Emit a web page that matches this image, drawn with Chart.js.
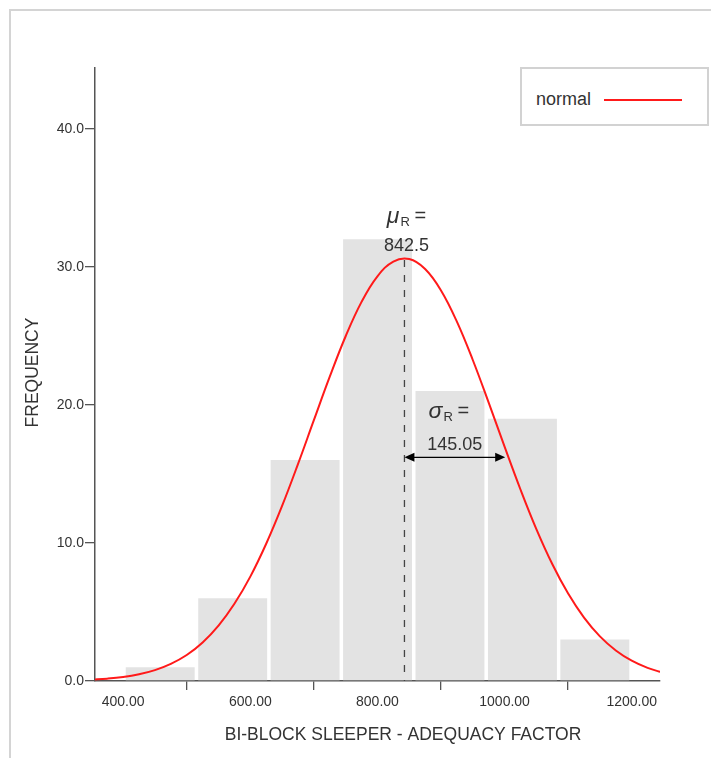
<!DOCTYPE html>
<html>
<head>
<meta charset="utf-8">
<script src="https://cdn.jsdelivr.net/npm/chart.js@4.4.0/dist/chart.umd.min.js"></script>
<style>
  html, body { margin: 0; padding: 0; background: #fff; overflow: hidden; }
  #wrap { position: relative; width: 711px; height: 758px; }
  #frame { position: absolute; left: 9px; top: 9px; width: 780px; height: 820px; border: 2px solid #d4d4d4; }
  #myChart { position: absolute; left: 0; top: 0; }
  #legend { position: absolute; left: 520px; top: 67px; width: 189px; height: 59px; box-sizing: border-box;
            border: 2px solid #d2d2d2; background: #fff; font: 18px "Liberation Sans", Arial, sans-serif; color: #333; }
  #legend span { position: absolute; left: 14px; top: 20px; }
  #legend i { position: absolute; left: 82px; top: 30px; width: 78px; height: 2px; background: #ff1a1a; }
</style>
</head>
<body>
<div id="wrap">
  <div id="frame"></div>
  <canvas id="myChart" width="711" height="758"></canvas>
  <div id="legend"><span>normal</span><i></i></div>
</div>
<script>
//Data
const binCenters = [458.3, 572.3, 686.2, 800.2, 914.1, 1028.1, 1142.0];
const frequencies = [1, 6, 16, 32, 21, 19, 3];
const curveX = [350, 375, 400, 425, 450, 475, 500, 525, 550, 575, 600, 625, 650, 675, 700, 725, 750, 775, 800, 825,
  850, 875, 900, 925, 950, 975, 1000, 1025, 1050, 1075, 1100, 1125, 1150, 1175, 1200, 1225, 1250];
const curveY = [0.1, 0.17, 0.29, 0.49, 0.79, 1.24, 1.88, 2.79, 4.01, 5.59, 7.56, 9.94, 12.68, 15.71, 18.89, 22.04, 24.97, 27.46, 29.31, 30.38,
  30.56, 29.84, 28.29, 26.03, 23.25, 20.16, 16.97, 13.87, 11.0, 8.47, 6.33, 4.59, 3.23, 2.21, 1.47, 0.95, 0.59];
const xTicks = [400, 600, 800, 1000, 1200];
const yTicks = [0, 10, 20, 30, 40];
const mean = 842.5;
const sigma = 145.05;
const sigmaArrowEnd = 1001;
const sigmaArrowLevel = 16.2;

const fontFamily = '"Liberation Sans", Arial, sans-serif';
var ctx = document.querySelector("#myChart").getContext("2d");

// draw the mean line, the labels and axis titles
const annotations = {
  id: "annotations",
  afterDatasetsDraw(chart) {
    const { ctx, chartArea, scales: { x, y } } = chart;
    const meanX = x.getPixelForValue(mean);
    ctx.save();

    //dashed mean line
    ctx.strokeStyle = "#444";
    ctx.lineWidth = 1.3;
    ctx.setLineDash([7, 8]);
    ctx.beginPath();
    ctx.moveTo(meanX, y.getPixelForValue(30.5));
    ctx.lineTo(meanX, chartArea.bottom);
    ctx.stroke();
    ctx.setLineDash([]);

    //sigma arrow
    const ay = y.getPixelForValue(sigmaArrowLevel);
    const ax2 = x.getPixelForValue(sigmaArrowEnd);
    ctx.strokeStyle = "#000";
    ctx.fillStyle = "#000";
    ctx.lineWidth = 1.4;
    ctx.beginPath();
    ctx.moveTo(meanX + 6, ay);
    ctx.lineTo(ax2 - 6, ay);
    ctx.stroke();
    ctx.beginPath();
    ctx.moveTo(meanX, ay);
    ctx.lineTo(meanX + 10, ay - 4.5);
    ctx.lineTo(meanX + 10, ay + 4.5);
    ctx.closePath();
    ctx.fill();
    ctx.beginPath();
    ctx.moveTo(ax2, ay);
    ctx.lineTo(ax2 - 10, ay - 4.5);
    ctx.lineTo(ax2 - 10, ay + 4.5);
    ctx.closePath();
    ctx.fill();

    //symbol labels
    ctx.fillStyle = "#333";
    ctx.textBaseline = "alphabetic";
    function symbolLabel(sym, cx, baseY) {
      const f1 = "italic 23px " + fontFamily;
      const f2 = "13px " + fontFamily;
      const f3 = "20px " + fontFamily;
      ctx.font = f1; const w1 = ctx.measureText(sym).width;
      ctx.font = f2; const w2 = ctx.measureText("R").width;
      ctx.font = f3; const w3 = ctx.measureText(" =").width;
      let left = cx - (w1 + w2 + w3) / 2;
      ctx.textAlign = "left";
      ctx.font = f1; ctx.fillText(sym, left, baseY);
      ctx.font = f2; ctx.fillText("R", left + w1 + 1, baseY + 3);
      ctx.font = f3; ctx.fillText(" =", left + w1 + w2, baseY - 1);
    }
    symbolLabel("\u03BC", meanX + 2, y.getPixelForValue(33.2));
    symbolLabel("\u03C3", (meanX + ax2) / 2 - 6, y.getPixelForValue(19.06));
    ctx.textAlign = "center";
    ctx.font = "18px " + fontFamily;
    ctx.fillText(String(mean), meanX + 2, y.getPixelForValue(31.16));
    ctx.fillText(sigma.toFixed(2), (meanX + ax2) / 2, y.getPixelForValue(16.74));

    //axis titles
    ctx.font = "17.5px " + fontFamily;
    ctx.fillStyle = "#333";
    ctx.textBaseline = "middle";
    ctx.fillText("BI-BLOCK SLEEPER - ADEQUACY FACTOR", (chartArea.left + chart.width) / 2, 735);
    ctx.translate(33, (chartArea.top + chartArea.bottom) / 2 - 2);
    ctx.rotate(-Math.PI / 2);
    ctx.fillText("FREQUENCY", 0, 0);
    ctx.restore();
  },
};

const histogram = new Chart(ctx, {
  type: "bar",
  data: {
    datasets: [
      {
        type: "line",
        label: "normal",
        data: curveX.map((v, i) => ({ x: v, y: curveY[i] })),
        borderColor: "#ff1a1a",
        borderWidth: 2,
        pointRadius: 0,
        tension: 0.4,
        fill: false,
      },
      {
        label: "frequency",
        data: binCenters.map((v, i) => ({ x: v, y: frequencies[i] })),
        backgroundColor: "#e3e3e3",
        barPercentage: 0.952,
        categoryPercentage: 1,
      },
    ],
  },
  options: {
    responsive: false,
    animation: false,
    devicePixelRatio: 1,
    layout: { padding: { top: 68, right: 51, bottom: 0, left: 0 } },
    plugins: { legend: { display: false }, tooltip: { enabled: false } },
    scales: {
      x: {
        type: "linear",
        min: 355.7,
        max: 1244.5,
        offset: false,
        afterFit: (s) => { s.height = 77; },
        afterBuildTicks: (s) => { s.ticks = xTicks.map((v) => ({ value: v })); },
        grid: { drawOnChartArea: false, drawTicks: true, tickLength: 9, color: "#555", lineWidth: 1.3 },
        border: { color: "#555", width: 1.5 },
        ticks: { color: "#333", padding: 4, font: { size: 14, family: fontFamily }, callback: (v) => Number(v).toFixed(2) },
      },
      y: {
        min: 0,
        max: 44.4,
        afterFit: (s) => { s.width = 95; },
        afterBuildTicks: (s) => { s.ticks = yTicks.map((v) => ({ value: v })); },
        grid: { drawOnChartArea: false, drawTicks: true, tickLength: 10, color: "#555", lineWidth: 1.3 },
        border: { color: "#555", width: 1.5 },
        ticks: { color: "#333", padding: 1, font: { size: 14, family: fontFamily }, callback: (v) => Number(v).toFixed(1) },
      },
    },
  },
  plugins: [annotations],
});
</script>
</body>
</html>
